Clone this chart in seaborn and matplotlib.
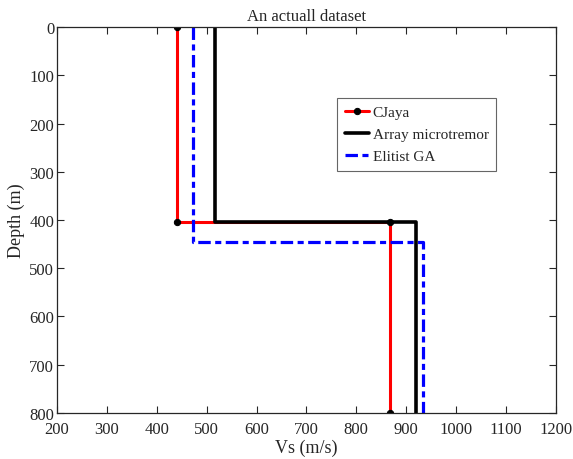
import matplotlib
matplotlib.use("Agg")
import matplotlib.pyplot as plt
import seaborn as sns
import pandas as pd

# Layered shear-wave velocity profiles (step profiles: Vs vs depth)
cjaya_vs = [441, 441, 868, 868]
cjaya_depth = [0, 405, 405, 800]

array_vs = [517, 517, 919, 919]
array_depth = [0, 405, 405, 800]

elitist_vs = [472, 472, 934, 934]
elitist_depth = [0, 445, 445, 800]

x_ticks = [200, 300, 400, 500, 600, 700, 800, 900, 1000, 1100, 1200]
y_ticks = [0, 100, 200, 300, 400, 500, 600, 700, 800]

sns.set_style("white")
plt.rcParams["font.family"] = ["Liberation Serif", "DejaVu Serif"]

fig = plt.figure(figsize=(5.73, 4.60), dpi=100)
ax = fig.add_axes([0.0995, 0.1005, 0.8705, 0.838])

profiles = pd.concat([
    pd.DataFrame({"Vs": cjaya_vs, "Depth": cjaya_depth, "Model": "CJaya"}),
    pd.DataFrame({"Vs": array_vs, "Depth": array_depth, "Model": "Array microtremor"}),
    pd.DataFrame({"Vs": elitist_vs, "Depth": elitist_depth, "Model": "Elitist GA"}),
])

sns.lineplot(data=profiles[profiles.Model == "CJaya"], x="Vs", y="Depth",
             sort=False, estimator=None, color="red", lw=2.2,
             marker="o", markersize=4.5, markerfacecolor="black",
             markeredgecolor="black", label="CJaya", ax=ax)
sns.lineplot(data=profiles[profiles.Model == "Array microtremor"], x="Vs", y="Depth",
             sort=False, estimator=None, color="black", lw=2.6,
             label="Array microtremor", ax=ax)
sns.lineplot(data=profiles[profiles.Model == "Elitist GA"], x="Vs", y="Depth",
             sort=False, estimator=None, color="blue", lw=2.3,
             linestyle=(0, (3.9, 1.4, 1.9, 1.4)), label="Elitist GA", ax=ax)

ax.set_xlim(200, 1200)
ax.set_ylim(800, 0)
ax.set_xticks(x_ticks)
ax.set_yticks(y_ticks)
ax.tick_params(direction="in", length=5, width=0.8, labelsize=12,
               top=True, right=True, bottom=True, left=True, colors="#262626",
               labelcolor="#262626")
ax.tick_params(axis="x", pad=6)
ax.tick_params(axis="y", pad=2)
for side in ax.spines.values():
    side.set_visible(True)
    side.set_linewidth(0.9)
    side.set_color("#262626")

ax.set_xlabel("Vs (m/s)", fontsize=13, labelpad=1)
ax.set_ylabel("Depth (m)", fontsize=13, labelpad=3)
ax.set_title("An actuall dataset", fontsize=12, pad=5)

leg = ax.legend(loc="upper right", bbox_to_anchor=(0.881, 0.817), fontsize=11,
                frameon=True, fancybox=False, edgecolor="#404040",
                handlelength=1.6, handletextpad=0.25, borderpad=0.5,
                labelspacing=0.55, borderaxespad=0)
leg.get_frame().set_linewidth(0.8)

fig.savefig("out.png", dpi=100)
